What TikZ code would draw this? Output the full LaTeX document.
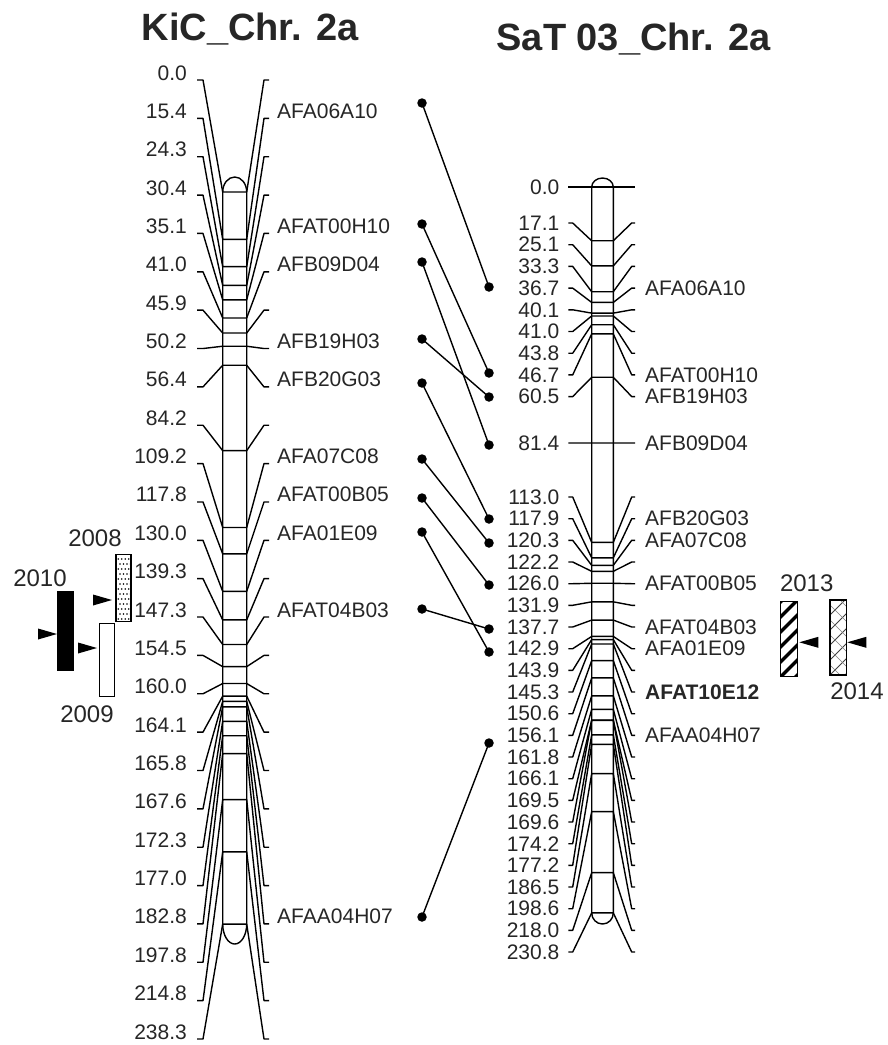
\documentclass[tikz,border=0pt]{standalone}
\usepackage{fontspec}
\setmainfont{Liberation Sans}
\usepackage{tikz}
\tikzset{
    chrline/.style={ line width=1.4pt, line join=round },
    % Labels
    cmlabel/.style={ inner sep=0pt, text=black!85, font=\fontsize{21pt}{25pt}\selectfont },
    maptitle/.style={ inner sep=0pt, text=black!85, font=\fontsize{38pt}{44pt}\selectfont\bfseries },
    yearlabel/.style={ inner sep=0pt, text=black!85, font=\fontsize{24pt}{28pt}\selectfont },
    % Links between the two maps
    linkdot/.style={ circle, fill=black, inner sep=0pt, minimum size=9.5pt },
    link/.style={ line width=1.4pt },
    % QTL intervals
    qtlbox/.style={ rectangle, draw, line width=1.5pt, inner sep=0pt, minimum width=15pt },
    dotted box/.style={ path picture={
        \foreach \a in {0,...,3} \foreach \b in {0,...,13} {
            \pgfmathsetmacro{\dx}{2.5+\a*3.5+mod(\b,2)*1.75}
            \fill[black] ([shift={(\dx pt,{2.5pt+\b*5pt})}]path picture bounding box.south west) circle (0.9pt);
        }
    }},
    striped box/.style={ path picture={
        \foreach \k in {-2,...,6}
            \draw[line width=3.4pt] ([shift={(-10pt,{\k*15pt-10pt})}]path picture bounding box.south west) -- ++(40pt,40pt);
    }},
    hatched box/.style={ path picture={
        \foreach \k in {-2,...,6} {
            \draw[line width=0.9pt, black!75] ([shift={(-10pt,{\k*15pt-10pt})}]path picture bounding box.south west) -- ++(40pt,40pt);
            \draw[line width=0.6pt, black!50] ([shift={(-10pt,{\k*15pt+20pt})}]path picture bounding box.south west) -- ++(40pt,-40pt);
        }
    }},
    peak/.pic={ \fill (0,0) -- (-19,-5.5) -- (-19,5.5) -- cycle; },
}

\begin{document}
\begin{tikzpicture}[x=1pt, y=-1pt]
    \useasboundingbox (0,0) rectangle (887,1045);

    % KiC map
    \node[maptitle, anchor=base] (kic-title) at (250,40) {KiC\_Chr. 2a};
    \draw[chrline] (222.7,192) arc[start angle=180, end angle=0, x radius=12pt, y radius=15pt]
        -- (246.7,924) arc[start angle=0, end angle=-180, x radius=12pt, y radius=20pt] -- cycle;
    \foreach \cm [count=\i from 0] in {0.0,15.4,24.3,30.4,35.1,41.0,45.9,50.2,56.4,84.2,109.2,117.8,130.0,139.3,147.3,154.5,160.0,164.1,165.8,167.6,172.3,177.0,182.8,197.8,214.8,238.3} {
        \pgfmathsetmacro{\ty}{80+38.36*\i}
        \pgfmathsetmacro{\ly}{192+3.072*\cm}
        \draw[chrline] (197,\ty) -- (203,\ty) -- (222.7,\ly) -- (246.7,\ly) -- (264,\ty) -- (269,\ty);
        \node[cmlabel, anchor=base east] (kic-\i) at (187,\ty) {\cm};
    }
    \foreach \name/\i in {AFA06A10/1, AFAT00H10/4, AFB09D04/5, AFB19H03/7, AFB20G03/8, AFA07C08/10, AFAT00B05/11, AFA01E09/12, AFAT04B03/14, AFAA04H07/22} {
        \pgfmathsetmacro{\ty}{80+38.36*\i}
        \node[cmlabel, anchor=base west] (kic-\name) at (277,\ty) {\name};
    }

    % SaT 03 map
    \node[maptitle, anchor=base] (sat-title) at (633.5,50) {SaT 03\_Chr. 2a};
    \draw[chrline] (591.7,187) arc[start angle=180, end angle=0, x radius=10.8pt, y radius=9pt]
        -- (613.3,913) arc[start angle=0, end angle=-180, x radius=10.8pt, y radius=11pt] -- cycle;
    \foreach \cm/\ty [count=\i] in {0.0/187, 17.1/223.0, 25.1/244.7, 33.3/266.4, 36.7/288.1, 40.1/309.8, 41.0/331.5, 43.8/353.2, 46.7/374.9, 60.5/396.6, 81.4/443,
        113.0/497.0, 117.9/518.7, 120.3/540.3, 122.2/562.0, 126.0/583.7, 131.9/605.3, 137.7/627.0, 142.9/648.7, 143.9/670.3, 145.3/692.0, 150.6/713.7,
        156.1/735.3, 161.8/757.0, 166.1/778.7, 169.5/800.3, 169.6/822.0, 174.2/843.7, 177.2/865.3, 186.5/887.0, 198.6/908.7, 218.0/930.3, 230.8/952.0} {
        \pgfmathsetmacro{\ly}{187+3.145*\cm}
        \draw[chrline] (568.3,\ty) -- (572.7,\ty) -- (591.7,\ly) -- (613.3,\ly) -- (631.7,\ty) -- (635,\ty);
        \node[cmlabel, anchor=east] (sat-\i) at (559.5,\ty) {\cm};
    }
    \foreach \name/\ty [count=\i] in {AFA06A10/288.1, AFAT00H10/374.9, AFB19H03/396.6, AFB09D04/443, AFB20G03/518.7, AFA07C08/540.3,
        AFAT00B05/583.7, AFAT04B03/627, AFA01E09/648.7, \textbf{AFAT10E12}/692, AFAA04H07/735.3}
        \node[cmlabel, anchor=west] (sat-name-\i) at (645,\ty) {\name};

    % Common markers
    \foreach \name/\ya/\yb in {AFA06A10/103/287, AFAT00H10/224/373, AFB09D04/262/445, AFB19H03/339/397, AFB20G03/383/519,
        AFA07C08/459/543, AFAT00B05/498/585, AFA01E09/532/652, AFAT04B03/609/629, AFAA04H07/917/743} {
        \node[linkdot] (link-kic-\name) at (422,\ya) {};
        \node[linkdot] (link-sat-\name) at (489,\yb) {};
        \draw[link] (link-kic-\name.center) -- (link-sat-\name.center);
    }

    % QTL on KiC
    \node[qtlbox, fill=black, minimum width=16pt, minimum height=78pt] (qtl-2010) at (65.3,630.9) {};
    \node[qtlbox, fill=white, dotted box, minimum height=67pt] (qtl-2008) at (123.3,588) {};
    \node[qtlbox, fill=white, minimum height=73pt] (qtl-2009) at (106.8,660) {};
    \node[yearlabel] (year-2010) at (40,578) {2010};
    \node[yearlabel] (year-2008) at (95,538) {2008};
    \node[yearlabel] (year-2009) at (87,714) {2009};
    \pic at (57,634) {peak};
    \pic at (112,600) {peak};
    \pic at (97,648) {peak};

    % QTL on SaT 03
    \node[qtlbox, fill=white, striped box, minimum width=16.6pt, minimum height=75pt] (qtl-2013) at (789,639.2) {};
    \node[qtlbox, fill=white, hatched box, minimum width=16.6pt, minimum height=75pt] (qtl-2014) at (838.3,637.5) {};
    \node[yearlabel] (year-2013) at (806.7,583.3) {2013};
    \node[yearlabel] (year-2014) at (857,691) {2014};
    \pic[xscale=-1] at (799.3,642.3) {peak};
    \pic[xscale=-1] at (847.3,642.3) {peak};
\end{tikzpicture}
\end{document}
